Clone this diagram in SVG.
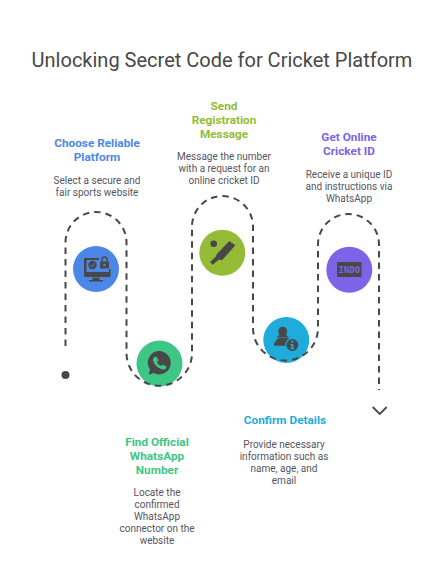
<svg xmlns="http://www.w3.org/2000/svg" width="444" height="570" viewBox="0 0 444 570">
<style>
text{font-family:Roboto,"Liberation Sans",sans-serif;text-anchor:middle}
.t{font-size:20px;fill:#484848}
.h{font-size:11.800px;font-weight:700}
.d{font-size:10px;fill:#55555f}
.ic{fill:#484848}
</style>
<rect width="444" height="570" fill="#fff"/>
<text class="t" x="222" y="67">Unlocking Secret Code for Cricket Platform</text>
<g id="node-platform">
<circle cx="96" cy="269" r="23" fill="#4c87e8"/>
<path class="ic" d="M85 258h14v2H86.500v12H109v-3h1.500v7a1 1 0 0 1-1 1H85a1 1 0 0 1-1-1v-17a1 1 0 0 1 1-1zM93 277.500h6l1 2.500h3v1.500H89V280h3z"/>
<circle class="ic" cx="92.500" cy="265" r="4.200"/>
<path fill="none" stroke="#4c87e8" stroke-width="1" d="M90.500 265l1.500 1.500 2.500-3"/>
<rect class="ic" x="100" y="261.500" width="9" height="7" rx="1"/>
<circle cx="104.500" cy="265" r="1.200" fill="#4c87e8"/>
<path fill="none" stroke="#484848" stroke-width="1.500" d="M102 261.500v-2a2.500 2.500 0 0 1 5 0v2"/>
<text class="h" x="97" y="146.500" fill="#4c87e8">Choose Reliable</text>
<text class="h" x="97" y="160.500" fill="#4c87e8">Platform</text>
<text class="d" x="97" y="184">Select a secure and</text>
<text class="d" x="97" y="196">fair sports website</text>
</g>
<g id="node-whatsapp">
<circle cx="159.500" cy="363.500" r="23" fill="#3ec684"/>
<path class="ic" d="M159 351a11.700 11.700 0 1 1-5.300 22.100l-5.200 1.700 1.600-5.300a11.700 11.700 0 0 1 8.900-18.500z"/>
<path fill="#3ec684" d="M154.500 357l2-.5 2 4-1.500 1.500c.8 2 2 3.200 4 4l1.500-1.500 4 2-.5 2c-1 1.200-3 1.500-5 .5-4-1.500-7-5-8-8.500-.2-1.300.5-2.700 1.500-3.500z"/>
<text class="h" x="157" y="445.500" fill="#3ec684">Find Official</text>
<text class="h" x="157" y="459.500" fill="#3ec684">WhatsApp</text>
<text class="h" x="157" y="473.500" fill="#3ec684">Number</text>
<text class="d" x="157" y="496">Locate the</text>
<text class="d" x="157" y="508">confirmed</text>
<text class="d" x="157" y="520">WhatsApp</text>
<text class="d" x="157" y="532">connector on the</text>
<text class="d" x="157" y="544">website</text>
</g>
<g id="node-message">
<circle cx="222.300" cy="252.700" r="23" fill="#94bc36"/>
<circle class="ic" cx="213.700" cy="243.700" r="3.300"/>
<path class="ic" d="M229.300 241L235.300 245.300 222 260.300 219 259.500 212.700 264.700 210 262 216 256.500 216.700 254.300z"/>
<text class="h" x="224" y="110" fill="#94bc36">Send</text>
<text class="h" x="224" y="124" fill="#94bc36">Registration</text>
<text class="h" x="224" y="138" fill="#94bc36">Message</text>
<text class="d" x="224" y="160">Message the number</text>
<text class="d" x="224" y="172">with a request for an</text>
<text class="d" x="224" y="184">online cricket ID</text>
</g>
<g id="node-confirm">
<circle cx="286.300" cy="340" r="23" fill="#1fabdb"/>
<circle class="ic" cx="282.700" cy="331.300" r="4.500"/>
<path class="ic" d="M276 337.500c2-1 3-2 3.500-3.500h6.500c.5 1.500 1.500 2.500 3.500 3.500z"/>
<path class="ic" d="M279 338h8c2 .5 3 1.500 3 3v4.700h-16c0-3 1.500-5.500 5-7.700z"/>
<circle class="ic" cx="292.300" cy="345" r="6.500" stroke="#1fabdb" stroke-width="1.200"/>
<path fill="#1fabdb" d="M291.300 340.500h2v2h-2zM290.300 344h3v4h1v1h-4v-1h1v-3h-1z"/>
<text class="h" x="285" y="423.500" fill="#1fabdb">Confirm Details</text>
<text class="d" x="284" y="448">Provide necessary</text>
<text class="d" x="284" y="460">information such as</text>
<text class="d" x="284" y="472">name, age, and</text>
<text class="d" x="284" y="484">email</text>
</g>
<g id="node-id">
<circle cx="349.300" cy="269.700" r="23" fill="#7d63e8"/>
<rect class="ic" x="337" y="262" width="24.500" height="15" rx="1"/>
<text x="349.300" y="273" font-size="9" font-weight="700" fill="#7d63e8" style="font-family:'DejaVu Sans Mono',monospace">INDO</text>
<text class="h" x="349" y="141" fill="#7d63e8">Get Online</text>
<text class="h" x="349" y="155" fill="#7d63e8">Cricket ID</text>
<text class="d" x="349" y="178">Receive a unique ID</text>
<text class="d" x="349" y="190">and instructions via</text>
<text class="d" x="349" y="202">WhatsApp</text>
</g>
<g id="connectors" fill="none" stroke="#484848" stroke-width="2">
<path stroke-dasharray="6.500 5" d="M65.500 346V242.500A30.500 30.500 0 0 1 126.500 242.500V353A32.750 32.750 0 0 0 192 353V226.500A30.500 30.500 0 0 1 253 226.500V328A32.500 32.500 0 0 0 318 328V244.500A30.500 30.500 0 0 1 379 244.500V390"/>
<circle cx="65.500" cy="375" r="4" fill="#484848" stroke="none"/>
<path stroke-width="1.800" d="M372.700 407L379.700 414L386.700 407"/>
</g>
</svg>
